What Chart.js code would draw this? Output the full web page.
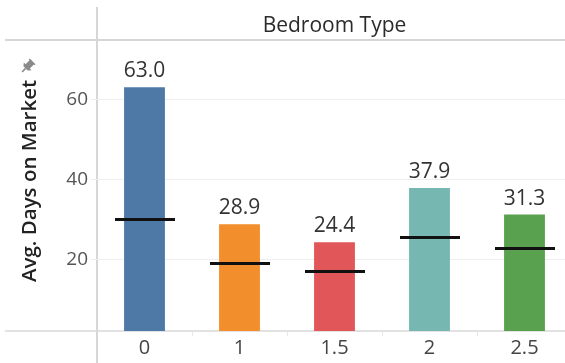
<!DOCTYPE html>
<html>
<head>
<meta charset="utf-8">
<script src="https://cdn.jsdelivr.net/npm/chart.js@4/dist/chart.umd.min.js"></script>
<style>
  html, body { margin: 0; padding: 0; background: #fff; overflow: hidden; }
  #wrap { width: 565px; height: 363px; overflow: hidden; position: relative; }
  #c { position: absolute; left: 0; top: 0; }
</style>
</head>
<body>
<div id="wrap"><canvas id="c" width="573" height="363"></canvas></div>
<script>
// Bedroom types on the x axis
const bedroomTypes = ['0', '1', '1.5', '2', '2.5'];
// Average days on market per bedroom type
const avgDays = [63.0, 28.9, 24.4, 37.9, 31.3];
// Reference (median) days on market per bedroom type
const refDays = [30.1, 19.0, 17.0, 25.7, 22.9];
// Bar colours
const barColors = ['#4e79a7', '#f28e2b', '#e15759', '#76b7b2', '#59a14f'];
// Value-axis ticks
const yTicks = [20, 40, 60];

const FONT = "'Open Sans', 'Noto Sans', sans-serif";

// horizontal reference-line marker used as the point style
const refMark = document.createElement('canvas');
refMark.width = 60;
refMark.height = 3;
(function () {
  const g = refMark.getContext('2d');
  g.fillStyle = '#111';
  g.fillRect(0, 0, 60, 3);
})();

const framePlugin = {
  id: 'frame',
  beforeDraw(chart) {
    const { ctx, chartArea } = chart;
    ctx.save();
    // header separator and pane borders
    ctx.strokeStyle = '#d6d6d6';
    ctx.lineWidth = 2;
    ctx.beginPath();
    ctx.moveTo(5, chartArea.top);
    ctx.lineTo(chart.width, chartArea.top);
    ctx.moveTo(chartArea.left, 7);
    ctx.lineTo(chartArea.left, chart.height);
    ctx.stroke();
    ctx.strokeStyle = '#d9d9d9';
    ctx.lineWidth = 1.5;
    ctx.beginPath();
    ctx.moveTo(5, chartArea.bottom);
    ctx.lineTo(chart.width, chartArea.bottom);
    ctx.stroke();
    // category dividers below the axis line
    const xs = chart.scales.x;
    ctx.strokeStyle = '#e6e6e6';
    ctx.lineWidth = 1;
    ctx.beginPath();
    for (let i = 0; i < bedroomTypes.length - 1; i++) {
      const m = Math.round((xs.getPixelForValue(i) + xs.getPixelForValue(i + 1)) / 2) + 0.5;
      ctx.moveTo(m, chartArea.bottom);
      ctx.lineTo(m, chartArea.bottom + 5);
    }
    ctx.stroke();
    // header title
    ctx.fillStyle = '#2b2b2b';
    ctx.font = '21px ' + FONT;
    ctx.textAlign = 'center';
    ctx.textBaseline = 'alphabetic';
    ctx.fillText('Bedroom Type', (chartArea.left + chartArea.right) / 2, 32);
    // axis title
    ctx.save();
    ctx.translate(36, 181);
    ctx.rotate(-Math.PI / 2);
    ctx.fillStyle = '#222';
    ctx.font = '600 20.5px ' + FONT;
    ctx.fillText('Avg. Days on Market', 0, 0);
    ctx.restore();
    // pin icon
    ctx.save();
    ctx.translate(27, 67);
    ctx.rotate(Math.PI / 4);
    ctx.fillStyle = '#8a8a8a';
    ctx.beginPath();
    ctx.rect(-3, -7, 6, 6);
    ctx.moveTo(-5.5, -1);
    ctx.lineTo(5.5, -1);
    ctx.lineTo(3, 2);
    ctx.lineTo(-3, 2);
    ctx.closePath();
    ctx.fill();
    ctx.fillRect(-0.8, 2, 1.6, 5);
    ctx.fillRect(-4, -8, 8, 1.5);
    ctx.restore();
    ctx.restore();
  }
};

const valueLabels = {
  id: 'valueLabels',
  afterDatasetsDraw(chart) {
    const { ctx } = chart;
    const meta = chart.getDatasetMeta(0);
    ctx.save();
    ctx.fillStyle = '#333';
    ctx.font = '21px ' + FONT;
    ctx.textAlign = 'center';
    ctx.textBaseline = 'alphabetic';
    meta.data.forEach((bar, i) => {
      ctx.fillText(avgDays[i].toFixed(1), bar.x, bar.y - 10);
    });
    ctx.restore();
  }
};

new Chart(document.getElementById('c'), {
  data: {
    labels: bedroomTypes,
    datasets: [
      {
        type: 'bar',
        data: avgDays,
        backgroundColor: barColors,
        borderWidth: 0,
        barPercentage: 0.43,
        categoryPercentage: 1,
        order: 2
      },
      {
        type: 'line',
        data: refDays,
        showLine: false,
        pointStyle: refMark,
        pointRadius: 1,
        pointHoverRadius: 1,
        pointBorderWidth: 0,
        order: 1
      }
    ]
  },
  options: {
    responsive: false,
    animation: false,
    events: [],
    layout: { padding: { left: 0, right: 0, top: 40, bottom: 0 } },
    plugins: { legend: { display: false }, tooltip: { enabled: false }, title: { display: false } },
    scales: {
      x: {
        type: 'category',
        offset: true,
        afterFit(s) { s.height = 32; },
        grid: { display: false, drawTicks: false },
        border: { display: false },
        ticks: { color: '#444', font: { family: FONT, size: 20 }, padding: 5, maxRotation: 0 }
      },
      y: {
        type: 'linear',
        min: 2.3,
        max: 74.8,
        afterFit(s) { s.width = 97; },
        afterBuildTicks(s) { s.ticks = yTicks.map(v => ({ value: v })); },
        grid: { color: '#eeeeee', lineWidth: 1, tickLength: 6 },
        border: { display: false },
        ticks: { color: '#555', font: { family: FONT, size: 19 }, padding: 3 }
      }
    }
  },
  plugins: [framePlugin, valueLabels]
});
</script>
</body>
</html>
